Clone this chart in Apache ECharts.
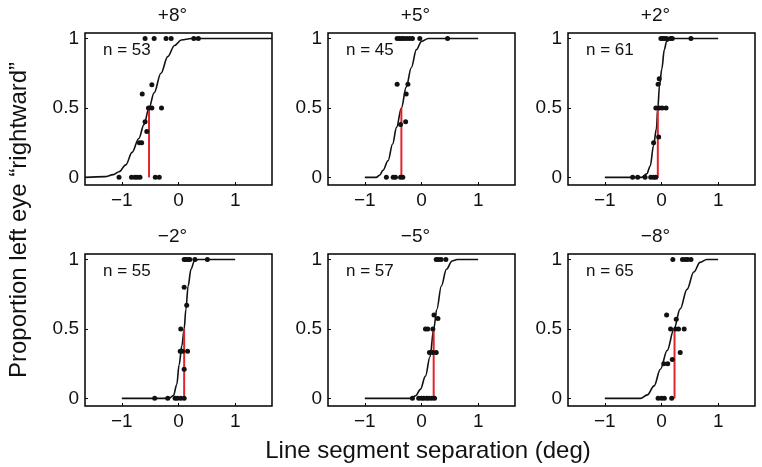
<!DOCTYPE html>
<html>
<head>
<meta charset="utf-8">
<script src="https://cdn.jsdelivr.net/npm/echarts@6/dist/echarts.min.js"></script>
<style>html,body{margin:0;padding:0;background:#fff}#c{width:762px;height:467px}</style>
</head>
<body>
<div id="c"></div>
<script>
// ---- data ----
const titles = ['+8\u00b0', '+5\u00b0', '+2\u00b0', '\u22122\u00b0', '\u22125\u00b0', '\u22128\u00b0'];
const nCounts = [53, 45, 61, 55, 57, 65];
const pseValues = [-0.52, -0.355, -0.065, 0.1, 0.215, 0.23];
const xTicks = [-1, 0, 1];
const yTicks = [0, 0.5, 1];

const pointsP8 = [[-0.59,1],[-0.43,1],[-0.22,1],[-0.13,1],[0.27,1],[0.35,1],[-0.47,0.667],[-0.64,0.6],[-0.53,0.5],[-0.47,0.5],[-0.30,0.5],[-0.59,0.4],[-0.56,0.33],[-0.69,0.25],[-0.65,0.25],[-1.05,0],[-0.83,0],[-0.77,0],[-0.73,0],[-0.68,0],[-0.41,0],[-0.34,0]];
const pointsP5 = [[-0.43,1],[-0.39,1],[-0.35,1],[-0.31,1],[-0.26,1],[-0.21,1],[-0.16,1],[-0.03,1],[0.46,1],[-0.43,0.67],[-0.24,0.67],[-0.27,0.6],[-0.37,0.38],[-0.28,0.4],[-0.62,0],[-0.5,0],[-0.46,0],[-0.37,0],[-0.33,0]];
const pointsP2 = [[-0.01,1],[0.02,1],[0.05,1],[0.09,1],[0.16,1],[0.19,1],[0.52,1],[-0.04,0.71],[-0.06,0.67],[-0.1,0.5],[-0.04,0.5],[0.01,0.5],[0.08,0.5],[-0.05,0.29],[-0.14,0.25],[-0.51,0],[-0.42,0],[-0.29,0],[-0.19,0],[-0.14,0],[-0.1,0]];
const pointsM2 = [[0.1,1],[0.13,1],[0.17,1],[0.2,1],[0.29,1],[0.51,1],[0.1,0.8],[0.145,0.67],[0.04,0.5],[0.03,0.34],[0.07,0.34],[0.16,0.34],[0.1,0.21],[-0.42,0],[-0.19,0],[-0.06,0],[-0.02,0],[0.04,0],[0.1,0]];
const pointsM5 = [[0.26,1],[0.3,1],[0.345,1],[0.43,1],[0.22,0.6],[0.29,0.575],[0.07,0.5],[0.11,0.5],[0.2,0.5],[0.14,0.33],[0.2,0.33],[0.26,0.33],[-0.16,0],[-0.05,0],[0,0],[0.04,0],[0.09,0],[0.13,0],[0.18,0],[0.23,0]];
const pointsM8 = [[0.2,1],[0.37,1],[0.42,1],[0.46,1],[0.52,1],[0.09,0.6],[0.26,0.57],[0.16,0.5],[0.25,0.5],[0.3,0.5],[0.4,0.5],[0.33,0.33],[0.19,0.28],[0.04,0.25],[0.11,0.25],[-0.06,0],[0,0],[0.05,0],[0.18,0]];

const curveP8 = [[-1.65,0],[-1.3,0.005],[-1.15,0.02],[-1.05,0.04],[-0.93,0.09],[-0.82,0.18],[-0.7,0.28],[-0.61,0.38],[-0.52,0.5],[-0.43,0.61],[-0.31,0.75],[-0.19,0.87],[-0.07,0.95],[0.05,0.99],[0.23,1.0],[1.65,1.0]];
const curveP5 = [[-1,0],[-0.8,0],[-0.74,0.015],[-0.68,0.05],[-0.59,0.12],[-0.51,0.24],[-0.44,0.36],[-0.355,0.5],[-0.27,0.65],[-0.18,0.79],[-0.09,0.92],[0,0.98],[0.12,1],[1,1]];
const curveP2 = [[-1,0],[-0.35,0],[-0.26,0.025],[-0.2,0.08],[-0.14,0.23],[-0.09,0.35],[-0.065,0.5],[-0.035,0.66],[0.005,0.78],[0.05,0.92],[0.09,0.98],[0.18,1],[1,1]];
const curveM2 = [[-1,0],[-0.17,0],[-0.09,0.02],[-0.03,0.1],[0.01,0.24],[0.06,0.38],[0.1,0.5],[0.13,0.64],[0.17,0.81],[0.22,0.93],[0.28,0.99],[0.35,1],[1,1]];
const curveM5 = [[-1,0],[-0.19,0],[-0.1,0.02],[-0.02,0.065],[0.07,0.16],[0.15,0.3],[0.215,0.5],[0.27,0.64],[0.35,0.81],[0.44,0.93],[0.54,0.99],[0.63,1],[1,1]];
const curveM8 = [[-1,0],[-0.37,0],[-0.25,0.025],[-0.13,0.09],[-0.02,0.21],[0.1,0.345],[0.22,0.5],[0.33,0.645],[0.45,0.785],[0.57,0.91],[0.68,0.98],[0.8,1],[1,1]];

const pointSets = [pointsP8, pointsP5, pointsP2, pointsM2, pointsM5, pointsM8];
const curveSets = [curveP8, curveP5, curveP2, curveM2, curveM5, curveM8];

// ---- layout ----
const FONT = 'Liberation Sans, Arial, Helvetica, sans-serif';
const colLeft = [85, 328, 568];
const rowTop = [33, 254];
const gridW = 187, gridH = 152;

const grids = [], xAxes = [], yAxes = [], series = [], graphics = [];
for (let i = 0; i < 6; i++) {
  const L = colLeft[i % 3], T = rowTop[Math.floor(i / 3)];
  grids.push({left: L, top: T, width: gridW, height: gridH, show: true, borderColor: '#000', borderWidth: 1.5, backgroundColor: 'transparent'});
  xAxes.push({
    type: 'value', gridIndex: i, min: -1.65, max: 1.65, position: 'bottom',
    axisLine: {show: false, onZero: false}, splitLine: {show: false},
    axisTick: {show: true, inside: true, length: 3, lineStyle: {color: '#000'}, customValues: xTicks},
    axisLabel: {color: '#111', fontSize: 19, fontFamily: FONT, margin: 6, customValues: xTicks,
      formatter: v => (v < 0 ? '\u2212' + Math.abs(v) : String(v))}
  });
  yAxes.push({
    type: 'value', gridIndex: i, min: -0.055, max: 1.04, position: 'left',
    axisLine: {show: false, onZero: false}, splitLine: {show: false},
    axisTick: {show: true, inside: true, length: 3, lineStyle: {color: '#000'}, customValues: yTicks},
    axisLabel: {color: '#111', fontSize: 19, fontFamily: FONT, margin: 6, customValues: yTicks,
      formatter: v => String(v)}
  });
  series.push({
    type: 'line', xAxisIndex: i, yAxisIndex: i, data: curveSets[i], showSymbol: false,
    smooth: 0.35, smoothMonotone: 'x', lineStyle: {color: '#111', width: 1.6}, z: 2, silent: true, clip: true
  });
  series.push({
    type: 'line', xAxisIndex: i, yAxisIndex: i, data: [[pseValues[i], 0], [pseValues[i], 0.5]], showSymbol: false,
    lineStyle: {color: '#e3242b', width: 2}, z: 3, silent: true
  });
  series.push({
    type: 'scatter', xAxisIndex: i, yAxisIndex: i, data: pointSets[i], symbolSize: 5,
    itemStyle: {color: '#111', opacity: 1}, z: 4, silent: true
  });
  graphics.push({type: 'text', left: L + 18, top: T + 9,
    style: {text: 'n = ' + nCounts[i], font: '17px ' + FONT, fill: '#111'}});
  graphics.push({type: 'text', x: L + gridW / 2 - 6, y: T - 17,
    style: {text: titles[i], font: '19px ' + FONT, fill: '#111', textAlign: 'center', textVerticalAlign: 'middle'}});
}
graphics.push({type: 'text', x: 428, y: 451,
  style: {text: 'Line segment separation (deg)', font: '24px ' + FONT, fill: '#111', textAlign: 'center', textVerticalAlign: 'middle'}});
graphics.push({type: 'text', x: 19, y: 220, rotation: Math.PI / 2,
  style: {text: 'Proportion left eye \u201crightward\u201d', font: '24px ' + FONT, fill: '#111', textAlign: 'center', textVerticalAlign: 'middle'}});

const chart = echarts.init(document.getElementById('c'), null, {renderer: 'canvas'});
chart.setOption({
  animation: false,
  backgroundColor: '#fff',
  grid: grids, xAxis: xAxes, yAxis: yAxes, series: series, graphic: graphics
});
</script>
</body>
</html>
